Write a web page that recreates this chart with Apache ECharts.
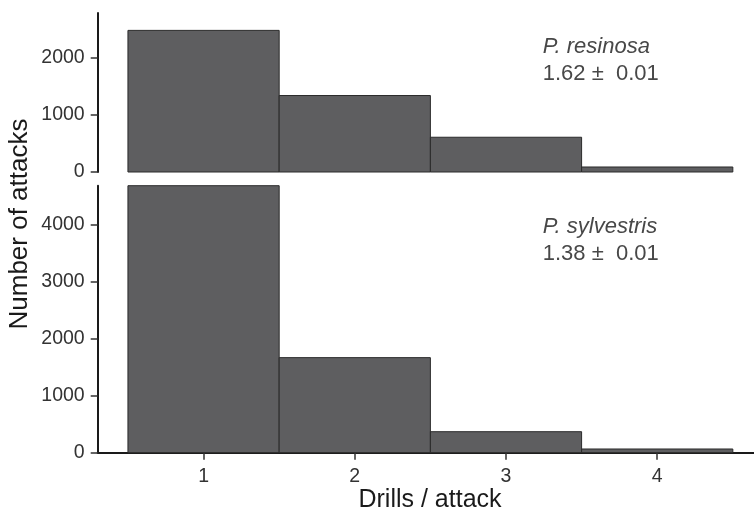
<!DOCTYPE html>
<html>
<head>
<meta charset="utf-8">
<script src="https://cdn.jsdelivr.net/npm/echarts@6/dist/echarts.min.js"></script>
<style>
html,body{margin:0;padding:0;background:#fff;}
#chart{width:754px;height:515px;}
</style>
</head>
<body>
<div id="chart"></div>
<script>
// ---- data ----
var drills = [1, 2, 3, 4];
var resinosa = [2485, 1342, 610, 88];
var sylvestris = [4690, 1670, 369, 65];
var xTicks = [1, 2, 3, 4];
var yTicksTop = [0, 1000, 2000];
var yTicksBottom = [0, 1000, 2000, 3000, 4000];
var labelTop = ['P. resinosa', '1.62 \u00B1  0.01'];
var labelBottom = ['P. sylvestris', '1.38 \u00B1  0.01'];

var chart = echarts.init(document.getElementById('chart'), null, {renderer: 'canvas'});

function barRender(params, api) {
  var x = api.value(0), v = api.value(1);
  var p1 = api.coord([x - 0.5, v]);
  var p2 = api.coord([x + 0.5, 0]);
  return {
    type: 'rect',
    shape: {x: p1[0], y: p1[1], width: p2[0] - p1[0], height: p2[1] - p1[1]},
    style: {fill: '#5e5e60', stroke: '#2a2a2a', lineWidth: 1}
  };
}

var tickFont = {fontFamily: 'Liberation Sans', fontSize: 19.5, color: '#333',
  formatter: function (v) { return String(v); }};

function yAxis(gi, max, ticks) {
  return {
    type: 'value', gridIndex: gi, min: 0, max: max,
    splitLine: {show: false},
    axisLine: {show: true, lineStyle: {color: '#1a1a1a', width: 2}},
    axisTick: {show: true, length: 7, lineStyle: {color: '#333', width: 1.5}, customValues: ticks},
    axisLabel: Object.assign({margin: 13, customValues: ticks}, tickFont)
  };
}

var option = {
  animation: false,
  backgroundColor: '#ffffff',
  grid: [
    {left: 97.7, right: 0, top: 13, height: 159},
    {left: 97.7, right: 0, top: 185.7, height: 267}
  ],
  xAxis: [
    {type: 'value', gridIndex: 0, min: 0.3, max: 4.64,
     axisLine: {show: false}, axisTick: {show: false}, axisLabel: {show: false}, splitLine: {show: false}},
    {type: 'value', gridIndex: 1, min: 0.3, max: 4.64,
     splitLine: {show: false},
     axisLine: {show: true, onZero: false, lineStyle: {color: '#1a1a1a', width: 2}},
     axisTick: {show: true, length: 7, lineStyle: {color: '#333', width: 1.5}, customValues: xTicks},
     axisLabel: Object.assign({margin: 14, customValues: xTicks}, tickFont)}
  ],
  yAxis: [yAxis(0, 2790, yTicksTop), yAxis(1, 4690, yTicksBottom)],
  series: [
    {type: 'custom', xAxisIndex: 0, yAxisIndex: 0, renderItem: barRender,
     data: drills.map(function (d, i) { return [d, resinosa[i]]; })},
    {type: 'custom', xAxisIndex: 1, yAxisIndex: 1, renderItem: barRender,
     data: drills.map(function (d, i) { return [d, sylvestris[i]]; })}
  ],
  graphic: [
    {type: 'text', left: 542.7, top: 36, style: {text: labelTop[0], font: 'italic 22px "Liberation Sans"', fill: '#484848'}},
    {type: 'text', left: 542.7, top: 63, style: {text: labelTop[1], font: '22px "Liberation Sans"', fill: '#484848'}},
    {type: 'text', left: 542.7, top: 216, style: {text: labelBottom[0], font: 'italic 22px "Liberation Sans"', fill: '#484848'}},
    {type: 'text', left: 542.7, top: 243, style: {text: labelBottom[1], font: '22px "Liberation Sans"', fill: '#484848'}},
    {type: 'text', x: 20, y: 224, rotation: Math.PI / 2,
     style: {text: 'Number of attacks', font: '26px "Liberation Sans"', fill: '#1a1a1a', align: 'center', verticalAlign: 'middle'}},
    {type: 'text', x: 430, y: 500,
     style: {text: 'Drills / attack', font: '25px "Liberation Sans"', fill: '#1a1a1a', align: 'center', verticalAlign: 'middle'}}
  ]
};
chart.setOption(option);
</script>
</body>
</html>
